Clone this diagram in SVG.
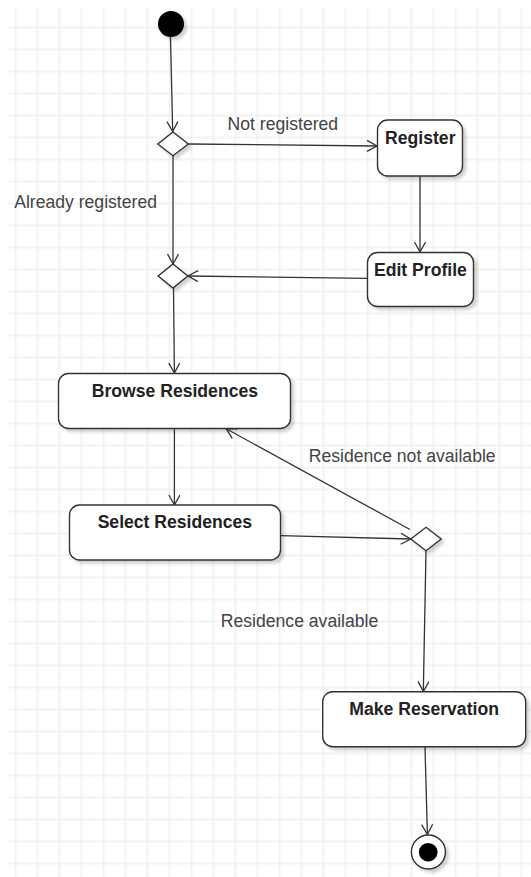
<svg xmlns="http://www.w3.org/2000/svg" width="531" height="877" viewBox="0 0 531 877">
  <style>
    .node { fill: #ffffff; stroke: #333333; stroke-width: 1.4; filter: url(#shadow); }
    .title { font-family: "Liberation Sans", Arial, sans-serif; font-size: 17.6px; font-weight: bold; fill: #222222; text-anchor: middle; }
    .label { font-family: "Liberation Sans", Arial, sans-serif; font-size: 17.6px; fill: #444444; }
    .edge { fill: none; stroke: #333333; stroke-width: 1.3; marker-end: url(#arrow); }
  </style>
  <defs>
    <pattern id="grid" patternUnits="userSpaceOnUse" x="4.5" y="16.5" width="22" height="22">
      <path d="M11 0 V22 M0 11 H22" stroke="#f0f0f0" stroke-width="1.6" fill="none"/>
    </pattern>
    <filter id="shadow" x="-20%" y="-20%" width="150%" height="150%">
      <feDropShadow dx="3" dy="3" stdDeviation="1.5" flood-color="#000000" flood-opacity="0.18"/>
    </filter>
    <marker id="arrow" markerUnits="userSpaceOnUse" markerWidth="14" markerHeight="14" refX="11" refY="6" orient="auto">
      <path d="M1 0.5 L11 6 L1 11.5" fill="none" stroke="#333333" stroke-width="1.3"/>
    </marker>
  </defs>

  <rect x="0" y="0" width="531" height="877" fill="#ffffff"/>
  <rect x="8" y="8" width="523" height="869" fill="url(#grid)"/>

  <g id="connectors">
    <path class="edge" d="M170.5 37 L172.7 131.5"/>
    <path class="edge" d="M188.6 144 L377 146"/>
    <path class="edge" d="M173 155.5 L173 264"/>
    <path class="edge" d="M420 176 L420 252"/>
    <path class="edge" d="M367.5 278.3 L188 276"/>
    <path class="edge" d="M173.5 288 L174.4 373"/>
    <path class="edge" d="M174.4 428.5 L174.4 505"/>
    <path class="edge" d="M280.5 535.7 L410.8 539"/>
    <path class="edge" d="M410 529.5 L226.2 428.8"/>
    <path class="edge" d="M426 551 L423.3 691.5"/>
    <path class="edge" d="M425 747 L427.4 834.5"/>
  </g>

  <g id="edge-labels">
    <text class="label" x="227.6" y="130">Not registered</text>
    <text class="label" x="14.2" y="208.3">Already registered</text>
    <text class="label" x="308.8" y="462.3">Residence not available</text>
    <text class="label" x="220.8" y="627.3">Residence available</text>
  </g>

  <g id="start">
    <circle cx="171" cy="24" r="13" fill="#000000" filter="url(#shadow)"/>
  </g>

  <g id="decision1">
    <path class="node" d="M173 132 L188.3 144 L173 155.7 L157.8 144 Z"/>
  </g>

  <g id="register">
    <rect class="node" x="377.5" y="120" width="85" height="56" rx="10" ry="10"/>
    <text class="title" x="420.3" y="143.5">Register</text>
  </g>

  <g id="edit-profile">
    <rect class="node" x="367.5" y="252.5" width="106" height="54" rx="10" ry="10"/>
    <text class="title" x="420.4" y="275.5">Edit Profile</text>
  </g>

  <g id="decision2">
    <path class="node" d="M173 264 L187.8 276 L173 288 L158.2 276 Z"/>
  </g>

  <g id="browse-residences">
    <rect class="node" x="58.5" y="373.5" width="232" height="55" rx="10" ry="10"/>
    <text class="title" x="174.9" y="396.7">Browse Residences</text>
  </g>

  <g id="select-residences">
    <rect class="node" x="69.5" y="505" width="211" height="55" rx="10" ry="10"/>
    <text class="title" x="174.9" y="528.3">Select Residences</text>
  </g>

  <g id="decision3">
    <path class="node" d="M426 527.3 L441.2 539 L426 550.7 L410.8 539 Z"/>
  </g>

  <g id="make-reservation">
    <rect class="node" x="322.7" y="691.7" width="203" height="55" rx="10" ry="10"/>
    <text class="title" x="424.1" y="715">Make Reservation</text>
  </g>

  <g id="end">
    <circle cx="428.4" cy="852" r="17" fill="#ffffff" stroke="#333333" stroke-width="1.4" filter="url(#shadow)"/>
    <circle cx="428.2" cy="852.2" r="9.3" fill="#000000"/>
  </g>
</svg>
